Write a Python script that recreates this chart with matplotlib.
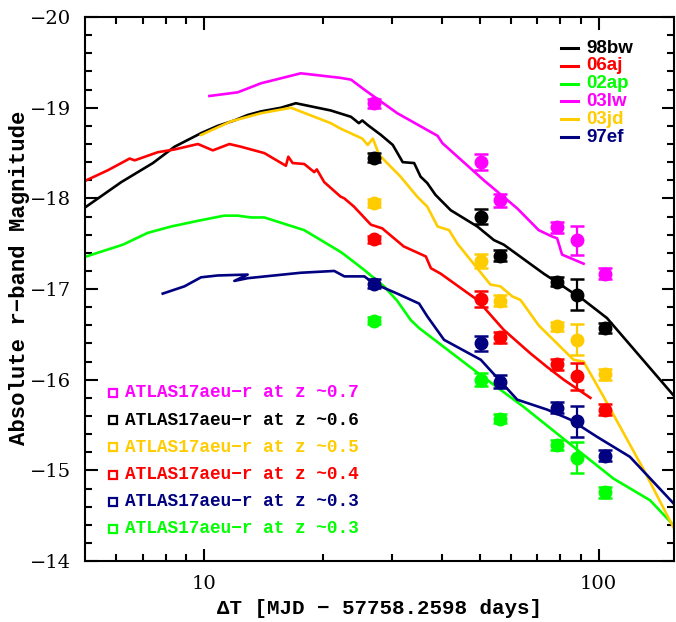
import numpy as np
import matplotlib
matplotlib.use("Agg")
import matplotlib.pyplot as plt
from matplotlib.ticker import FixedLocator, NullFormatter

# template light curves (days since explosion, absolute r mag)
sn_names = ["98bw", "06aj", "02ap", "03lw", "03jd", "97ef"]
sn_colors = ["black", "#ff0000", "#00ff00", "#ff00ff", "#ffcc00", "#000080"]

t_98bw = [5.04, 6.18, 7.43, 8.43, 9.84, 10.84, 11.95, 12.91, 13.96, 15.67, 17.1, 20.97, 23.6,
          24.7, 25.2, 26.0, 28.1, 30.1, 31.9, 34.1, 35.4, 36.8, 38.6, 42.2, 49.3, 54.3, 57.5,
          72.6, 80.0, 91.6, 105, 156]
m_98bw = [-17.91, -18.18, -18.39, -18.57, -18.72, -18.80, -18.86, -18.92, -18.96, -19.00, -19.05,
          -18.97, -18.90, -18.83, -18.86, -18.81, -18.70, -18.59, -18.40, -18.39, -18.24, -18.17,
          -18.04, -17.87, -17.69, -17.54, -17.49, -17.17, -17.05, -16.88, -16.68, -15.81]

t_06aj = [5.04, 5.71, 6.49, 6.68, 7.65, 8.43, 9.66, 10.54, 11.61, 12.42, 14.23, 16.14, 16.37,
          16.79, 17.96, 19.04, 19.33, 20.18, 22.2, 22.7, 24.0, 26.5, 28.3, 32.1, 36.5, 37.6, 39.8,
          49.3, 57.5, 67.2, 74.1, 81.6, 95.3]
m_06aj = [-18.20, -18.31, -18.44, -18.42, -18.51, -18.54, -18.60, -18.53, -18.60, -18.57, -18.50,
          -18.36, -18.46, -18.39, -18.38, -18.29, -18.32, -18.18, -18.02, -18.00, -17.91, -17.71,
          -17.67, -17.47, -17.36, -17.23, -17.17, -16.88, -16.55, -16.29, -16.14, -16.00, -15.80]

t_02ap = [5.04, 6.24, 7.21, 8.26, 9.84, 11.27, 12.18, 13.17, 14.23, 17.96, 22.2, 22.7, 25.5,
          28.6, 30.9, 33.4, 35.1, 50.3, 64.6, 86.4, 109, 135, 156]
m_02ap = [-17.36, -17.49, -17.62, -17.69, -17.76, -17.81, -17.81, -17.79, -17.79, -17.65, -17.41,
          -17.38, -17.21, -17.03, -16.87, -16.66, -16.57, -16.05, -15.70, -15.26, -14.91, -14.67,
          -14.38]

t_03lw = [10.33, 12.18, 13.96, 17.6, 22.2, 23.6, 25.5, 30.9, 39.1, 40.2, 51.2, 62.2, 70.5, 76.2,
          78.5, 80.8, 91.6]
m_03lw = [-19.13, -19.17, -19.27, -19.38, -19.33, -19.31, -19.20, -18.94, -18.69, -18.61, -18.20,
          -17.89, -17.65, -17.58, -17.56, -17.38, -17.28]

t_03jd = [9.84, 11.72, 13.96, 16.63, 20.97, 22.2, 25.2, 26.0, 26.8, 27.8, 31.5, 34.7, 36.8, 39.1,
          41.8, 43.9, 53.2, 56.4, 60.4, 63.4, 70.5, 86.4, 91.6, 103, 130, 156]
m_03jd = [-18.70, -18.85, -18.94, -19.00, -18.83, -18.77, -18.66, -18.59, -18.66, -18.48, -18.24,
          -18.02, -17.91, -17.69, -17.65, -17.50, -17.05, -17.03, -16.92, -16.88, -16.60, -16.22,
          -16.20, -15.81, -15.01, -14.34]

t_97ef = [7.87, 8.93, 9.84, 10.84, 12.91, 11.95, 12.91, 17.6, 21.4, 22.7, 25.5, 27.0, 30.9, 35.1,
          36.8, 40.6, 50.3, 62.2, 74.1, 84.8, 99.1, 120, 156]
m_97ef = [-16.95, -17.03, -17.13, -17.15, -17.16, -17.09, -17.12, -17.18, -17.20, -17.14, -17.14,
          -17.06, -16.95, -16.84, -16.70, -16.44, -16.22, -15.78, -15.67, -15.56, -15.37, -15.15,
          -14.62]

# ATLAS17aeu r-band points for different assumed redshifts
epochs = [27.0, 50.5, 56.1, 78.5, 88.1, 104]
z_labels = ["0.7", "0.6", "0.5", "0.4", "0.3", "0.3"]
z_colors = ["#ff00ff", "black", "#ffcc00", "#ff0000", "#000080", "#00ff00"]
mag_z07 = [-19.05, -18.40, -17.98, -17.68, -17.54, -17.17]
mag_z06 = [-18.45, -17.80, -17.37, -17.08, -16.94, -16.57]
mag_z05 = [-17.95, -17.31, -16.87, -16.59, -16.44, -16.06]
mag_z04 = [-17.55, -16.89, -16.47, -16.17, -16.04, -15.67]
mag_z03a = [-17.06, -16.40, -15.98, -15.69, -15.54, -15.16]
mag_z03b = [-16.65, -16.00, -15.57, -15.28, -15.14, -14.76]
err_z07 = [0.05, 0.09, 0.07, 0.06, 0.16, 0.06]
err_z06 = [0.05, 0.08, 0.06, 0.05, 0.17, 0.06]
err_z05 = [0.04, 0.08, 0.06, 0.05, 0.17, 0.06]
err_z04 = [0.04, 0.09, 0.06, 0.06, 0.15, 0.06]
err_z03a = [0.05, 0.08, 0.07, 0.06, 0.17, 0.06]
err_z03b = [0.04, 0.07, 0.05, 0.05, 0.17, 0.06]

sn_t = [t_98bw, t_06aj, t_02ap, t_03lw, t_03jd, t_97ef]
sn_m = [m_98bw, m_06aj, m_02ap, m_03lw, m_03jd, m_97ef]
z_mags = [mag_z07, mag_z06, mag_z05, mag_z04, mag_z03a, mag_z03b]
z_errs = [err_z07, err_z06, err_z05, err_z04, err_z03a, err_z03b]

fig = plt.figure(figsize=(6.76, 6.22), dpi=100)
ax = fig.add_axes([0.1257, 0.098, 0.871, 0.8745])

for t, m, c in zip(sn_t, sn_m, sn_colors):
    ax.plot(t, m, color=c, lw=1.9, zorder=2)

for mags, errs, c in zip(z_mags, z_errs, z_colors):
    ax.errorbar(epochs, mags, yerr=errs, fmt='o', color=c, ms=9, elinewidth=1.6,
                capsize=5, capthick=1.8, zorder=3)

ax.set_xscale('log')
ax.set_xlim(5.0, 155)
ax.set_ylim(-14, -20)

ax.xaxis.set_major_locator(FixedLocator([10, 100]))
ax.xaxis.set_minor_locator(FixedLocator([6, 7, 8, 9, 20, 30, 40, 50, 60, 70, 80, 90]))
ax.xaxis.set_minor_formatter(NullFormatter())
ax.set_xticklabels(["10", "100"])
ax.yaxis.set_major_locator(FixedLocator(np.arange(-20, -13)))
ax.yaxis.set_minor_locator(FixedLocator(np.arange(-20, -13.9, 0.2)))
ax.set_yticklabels(["\u221220", "\u221219", "\u221218", "\u221217", "\u221216", "\u221215", "\u221214"])

ax.tick_params(which='both', direction='in', top=True, right=True, width=1.5)
ax.tick_params(which='major', length=9, pad=10, labelsize=14,
               labelfontfamily='DejaVu Serif')
ax.tick_params(which='minor', length=5)
for sp in ax.spines.values():
    sp.set_linewidth(1.5)

ax.set_xlabel("\u0394T [MJD \u2212 57758.2598 days]", family='Liberation Mono',
              fontweight='bold', fontsize=15)
ax.xaxis.set_label_coords(0.5, -0.07)
ax.set_ylabel("Absolute r\u2212band Magnitude", family='Liberation Mono',
              fontweight='bold', fontsize=16)
ax.yaxis.set_label_coords(-0.093, 0.52)

# template legend, upper right
for i, (name, c) in enumerate(zip(sn_names, sn_colors)):
    yy = 0.943 - i * 0.0327
    ax.plot([0.808, 0.837], [yy, yy], color=c, lw=2.2, transform=ax.transAxes)
    ax.text(0.851, yy, name, color=c, transform=ax.transAxes, va='center', ha='left',
            family='Liberation Sans', fontweight='bold', fontsize=13.5)

# data legend, lower left
for i, (zl, c) in enumerate(zip(z_labels, z_colors)):
    yy = 0.309 - i * 0.05
    ax.plot([0.047], [yy], marker='s', ms=6, mfc='none', mec=c, mew=1.6,
            transform=ax.transAxes)
    ax.text(0.068, yy, "ATLAS17aeu\u2212r at z ~" + zl, color=c, transform=ax.transAxes,
            va='center', ha='left', family='Liberation Mono', fontweight='bold',
            fontsize=12.8)

fig.savefig("out.png", dpi=100)
